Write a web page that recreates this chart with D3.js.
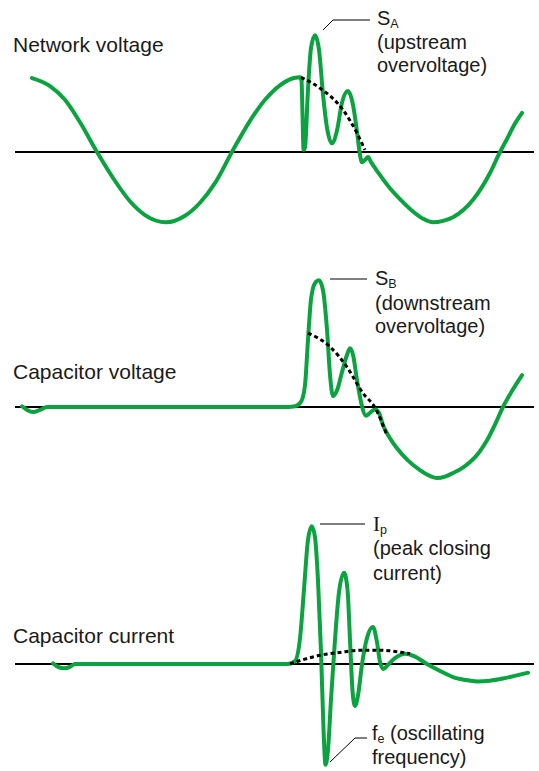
<!DOCTYPE html>
<html><head><meta charset="utf-8">
<script src="https://cdn.jsdelivr.net/npm/d3@7/dist/d3.min.js"></script>
<style>
body{margin:0;background:#fff}
text{font-family:"Liberation Sans",Arial,Helvetica,sans-serif;fill:#1a1a1a}
</style>
</head><body>
<svg id="chart" width="539" height="771"></svg>
<script>
// ---- Data (time in ms, amplitude in per-unit) ----
const panelTitles = ["Network voltage", "Capacitor voltage", "Capacitor current"];
const timeDomain = [0, 40];
const valueDomain = [-1.5, 1.5];

const networkVoltage = [
  [1.31,1.02],[2.70,0.91],[3.85,0.72],[5.01,0.41],[6.32,0],[7.71,-0.40],[8.86,-0.68],
  [10.02,-0.87],[11.64,-0.97],[13.10,-0.88],[14.26,-0.70],[15.41,-0.43],[16.72,0],
  [18.11,0.43],[19.27,0.72],[20.42,0.92],[21.50,1.02],[21.97,1.03],
  [22.08,0.99],[22.16,0.51],[22.24,0.03],[22.35,0.06],[22.58,0.86],[22.81,1.43],
  [23.12,1.61],[23.43,1.41],[23.74,0.79],[24.05,0.33],[24.43,0.12],[24.82,0.30],
  [25.20,0.68],[25.66,0.84],[26.05,0.65],[26.36,0.28],[26.59,-0.04],[26.74,-0.14],
  [26.97,-0.11],[27.21,-0.07],[27.44,-0.14],[27.90,-0.26],
  [28.90,-0.50],[29.67,-0.65],[30.67,-0.82],[31.45,-0.92],[32.22,-0.97],[33.00,-0.95],
  [33.76,-0.90],[35.30,-0.66],[36.61,-0.29],[37.38,0],[37.92,0.18],[38.46,0.37],[39.08,0.54]
];
const networkUndisturbed = [[22.04,1.03],[23.51,0.88],[25.28,0.58],[26.36,0.26],[26.97,0.03]];

const capacitorVoltage = [
  [0.54,0.01],[0.93,-0.04],[1.39,-0.07],[1.93,-0.04],[2.47,0],[6.55,0],[14.0,0],[21.04,0],
  [21.58,0.01],[22.04,0.07],[22.35,0.30],[22.58,0.92],[22.81,1.48],[23.12,1.71],[23.43,1.75],
  [23.74,1.61],[24.05,1.06],[24.28,0.44],[24.51,0.15],[24.82,0.23],[25.20,0.48],[25.59,0.72],
  [25.82,0.81],[26.05,0.72],[26.36,0.37],[26.67,0.07],[27.05,-0.12],[27.36,-0.08],
  [27.75,-0.03],[28.05,-0.08],[28.36,-0.25],[28.90,-0.43],[29.44,-0.57],[30.30,-0.74],
  [31.21,-0.87],[31.85,-0.94],[32.52,-0.98],[33.15,-0.96],[33.76,-0.91],[34.40,-0.85],
  [35.07,-0.76],[35.75,-0.63],[36.38,-0.46],[37.00,-0.24],[37.61,0],
  [38.30,0.22],[39.08,0.44]
];
const capacitorVoltageRef = [[22.58,1.02],[24.28,0.83],[25.59,0.55],[26.82,0.19],[27.75,-0.01],[28.67,-0.39]];

const capacitorCurrent = [
  [2.93,0.01],[3.31,-0.04],[3.78,-0.06],[4.24,-0.04],[4.62,0],[10.0,0],[16.0,0],[21.04,0],
  [21.58,0.04],[21.97,0.36],[22.27,1.02],[22.58,1.71],[22.87,1.90],[23.12,1.75],[23.35,1.16],
  [23.58,0.19],[23.78,-0.91],[23.93,-1.39],[24.12,-1.19],[24.35,-0.50],[24.66,0.33],
  [24.97,0.99],[25.36,1.26],[25.63,1.02],[25.82,0.33],[26.01,-0.36],[26.20,-0.58],
  [26.44,-0.43],[26.74,-0.01],[27.13,0.36],[27.59,0.51],[27.90,0.30],[28.13,0.03],
  [28.40,-0.07],[28.75,-0.01],[29.29,0.08],[30.06,0.14],[30.75,0.11],[31.75,0],
  [32.80,-0.10],[33.76,-0.18],[34.70,-0.22],[35.61,-0.24],[36.60,-0.23],[37.61,-0.20],
  [38.60,-0.16],[39.54,-0.12]
];
const capacitorCurrentRef = [[21.19,0],[22.20,0.06],[23.51,0.12],[25.05,0.16],[26.59,0.19],[28.13,0.19],[29.44,0.17],[30.44,0.14]];

// ---- Layout ----
const svg = d3.select("#chart");
const W = 539, H = 771;
svg.append("rect").attr("width", W).attr("height", H).attr("fill", "#fff");
const GREEN = "#0ba340";
const x = d3.scaleLinear().domain(timeDomain).range([15, 534]);
const panels = [
  {axisY: 152, titleY: 52, wave: networkVoltage, ref: networkUndisturbed},
  {axisY: 407, titleY: 379, wave: capacitorVoltage, ref: capacitorVoltageRef},
  {axisY: 664, titleY: 643, wave: capacitorCurrent, ref: capacitorCurrentRef}
];

panels.forEach((p, i) => {
  const y = d3.scaleLinear().domain(valueDomain).range([p.axisY + 108.75, p.axisY - 108.75]);
  const g = svg.append("g");
  g.append("text").attr("x", 13).attr("y", p.titleY).attr("font-size", 21).text(panelTitles[i]);
  g.append("line").attr("x1", x(timeDomain[0])).attr("x2", x(timeDomain[1]))
    .attr("y1", y(0)).attr("y2", y(0)).attr("stroke", "#000").attr("stroke-width", 1.8);
  const line = d3.line().x(d => x(d[0])).y(d => y(d[1])).curve(d3.curveMonotoneX);
  g.append("path").attr("d", line(p.wave)).attr("fill", "none").attr("stroke", GREEN)
    .attr("stroke-width", 4).attr("stroke-linejoin", "round").attr("stroke-linecap", "round");
  g.append("path").attr("d", line(p.ref)).attr("fill", "none").attr("stroke", "#000")
    .attr("stroke-width", 3).attr("stroke-dasharray", "4,3");
});

// ---- Annotations ----
const fs = 20;
function leader(pts){
  svg.append("path").attr("d", d3.line()(pts)).attr("fill","none").attr("stroke","#000").attr("stroke-width",1);
}
function lines(x0, ys, texts){
  texts.forEach((t, k) => svg.append("text").attr("x", x0).attr("y", ys[k]).attr("font-size", fs).text(t));
}
// S_A
leader([[323,30],[333,20],[370,20]]);
let t1 = svg.append("text").attr("x", 377).attr("y", 24.5).attr("font-size", fs);
t1.append("tspan").text("S");
t1.append("tspan").attr("font-size", 12.5).attr("dy", 3).text("A");
lines(377, [48.5, 72], ["(upstream", "overvoltage)"]);
// S_B
leader([[330,279],[367,279]]);
let t2 = svg.append("text").attr("x", 375).attr("y", 285).attr("font-size", fs);
t2.append("tspan").text("S");
t2.append("tspan").attr("font-size", 12.5).attr("dy", 3).text("B");
lines(375, [310, 333], ["(downstream", "overvoltage)"]);
// I_p
leader([[320,524],[365,524]]);
let t3 = svg.append("text").attr("x", 373).attr("y", 531).attr("font-size", 21);
t3.append("tspan").attr("font-family", "Liberation Serif, Times New Roman, serif").text("I");
t3.append("tspan").attr("font-size", 12.5).attr("dy", 3).text("p");
lines(373, [555, 580], ["(peak closing", "current)"]);
// f_e
leader([[330,762],[355,738],[367,738]]);
let t4 = svg.append("text").attr("x", 372).attr("y", 740).attr("font-size", fs);
t4.append("tspan").text("f");
t4.append("tspan").attr("font-size", 12.5).attr("dy", 3).text("e");
t4.append("tspan").attr("dy", -3).text(" (oscillating");
lines(372, [764], ["frequency)"]);
</script>
</body></html>
